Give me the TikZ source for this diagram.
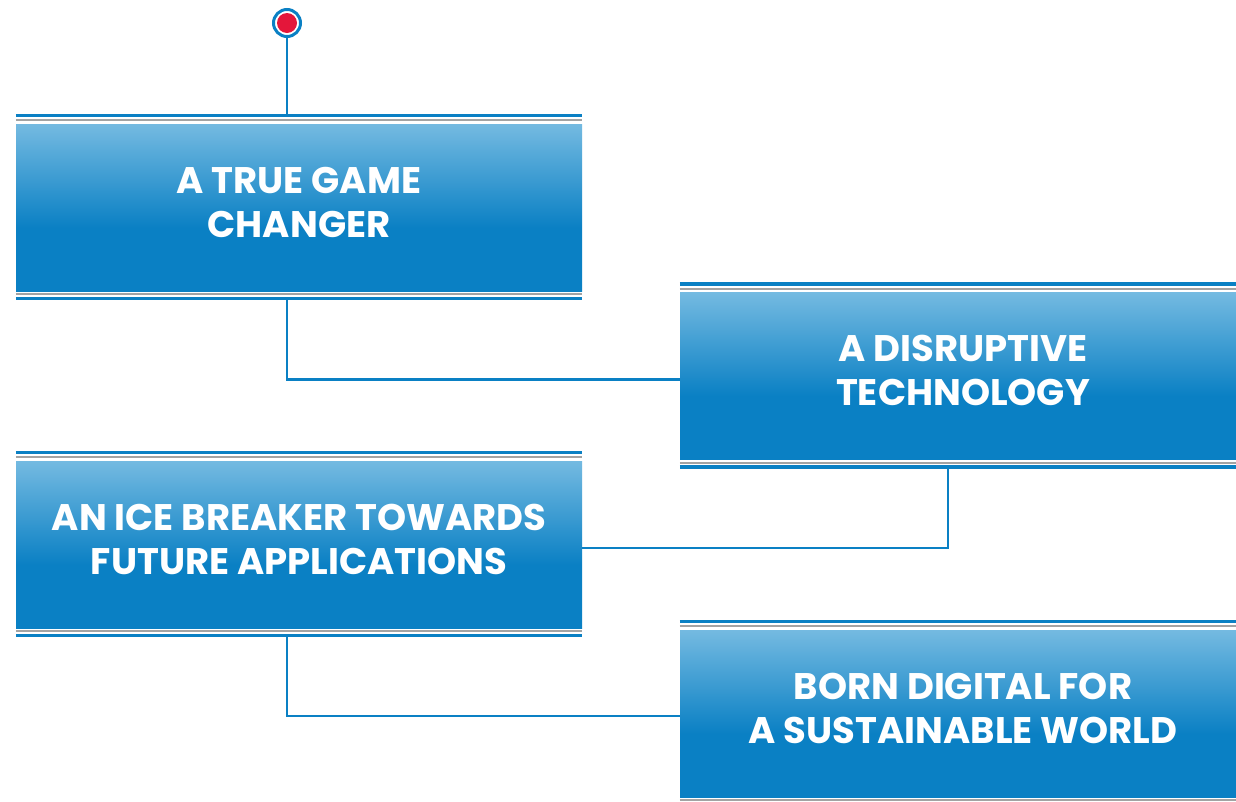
\documentclass[tikz,border=0pt]{standalone}
\usepackage{fontspec}
\setmainfont{Poppins}
\usetikzlibrary{calc}
\definecolor{bdark}{HTML}{0A80C4}
\definecolor{blight}{HTML}{74BAE1}
\definecolor{lgray}{HTML}{A3A3A3}
\definecolor{dotred}{HTML}{E4163A}
\pgfdeclareverticalshading{boxshade}{100bp}{color(0bp)=(bdark); color(25bp)=(bdark); color(44bp)=(bdark); color(75bp)=(blight); color(100bp)=(blight)}
\tikzset{
  box/.style={rectangle, inner sep=0pt, minimum width=566, minimum height=167,
    shading=boxshade},
  boxtext/.style={text=white, align=center,
    font=\fontsize{37}{44}\selectfont\bfseries},
  topline/.style={bdark, line width=3.2},
  grayline/.style={lgray, line width=2.2},
  conn/.style={bdark, line width=2.6},
}
\begin{document}
\begin{tikzpicture}[x=1pt,y=-1pt]
\useasboundingbox (0,0) rectangle (1236,801);
\fill[white] (0,0) rectangle (1236,801);
% boxes
\node[box, label={[boxtext, yshift=5.5]center:{A TRUE GAME\\CHANGER}}] (b1) at (299,207.5) {};
\node[box, label={[boxtext, yshift=5.5]center:{A DISRUPTIVE\\TECHNOLOGY}}] (b2) at (963,376) {};
\node[box, label={[boxtext, yshift=5.5]center:{AN ICE BREAKER TOWARDS\\FUTURE APPLICATIONS}}] (b3) at (299,544.5) {};
\node[box, label={[boxtext, yshift=5.5]center:{BORN DIGITAL FOR\\A SUSTAINABLE WORLD}}] (b4) at (963,713.5) {};
% decorative double lines
\foreach \b in {b1,b2,b3,b4}{
  \draw[topline] ([yshift=8.3]\b.north west) -- ([yshift=8.3]\b.north east);
  \draw[grayline] ([yshift=3.5]\b.north west) -- ([yshift=3.5]\b.north east);
  \draw[grayline] ([yshift=-3]\b.south west) -- ([yshift=-3]\b.south east);
  \draw[topline] ([yshift=-7.3]\b.south west) -- ([yshift=-7.3]\b.south east);
}
% start marker
\node[circle, draw=bdark, line width=3, fill=white, minimum size=27, inner sep=0pt] (start) at (287,23) {};
\fill[dotred] (start.center) circle (10);
\draw[conn] (start.south) -- ([yshift=8.3]start.south |- b1.north);
% connectors
\draw[conn] ([yshift=-8.3]b1.south -| start) |- (b2.west |- 0,379.5);
\draw[conn] ([yshift=-8.3]b2.south -| 948,0) |- (b3.east |- 0,548);
\draw[conn] ([yshift=-8.3]b3.south -| start) |- (b4.west |- 0,716);
\end{tikzpicture}
\end{document}
